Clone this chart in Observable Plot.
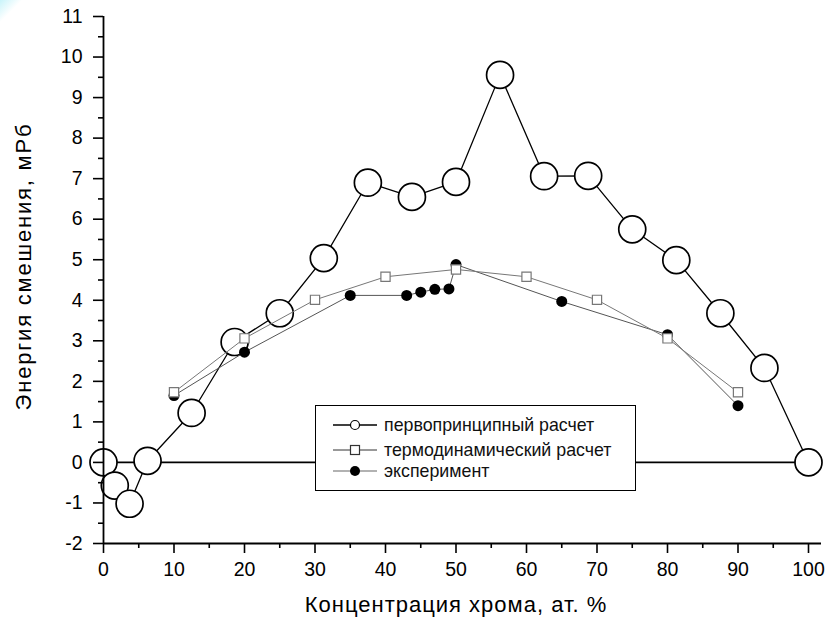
<!DOCTYPE html>
<html>
<head>
<meta charset="utf-8">
<script src="https://cdn.jsdelivr.net/npm/d3@7"></script>
<script src="https://cdn.jsdelivr.net/npm/@observablehq/plot@0.6"></script>
<style>
  html, body { margin: 0; padding: 0; background: #fff; }
  #wrap { position: relative; width: 829px; height: 626px; overflow: hidden;
    background: linear-gradient(135deg, #c8f4fa 0px, #ffffff 16px); }
  #legend { position: absolute; left: 315px; top: 405px; width: 319px; height: 84px;
    border: 1.5px solid #000; background: #fff; font-family: "Liberation Sans", Arial, sans-serif;
    font-size: 17.8px; color: #111; }
  .row { position: absolute; left: 17px; height: 20px; display: flex; align-items: center; }
  .row svg { margin-right: 7px; }
</style>
</head>
<body>
<div id="wrap"><div id="chart"></div>
<div id="legend"></div>
</div>
<script>
// First-principles calculation (open circles)
const fpX = [0, 1.6, 3.7, 6.25, 12.5, 18.6, 25, 31.25, 37.5, 43.75, 50, 56.25, 62.5, 68.75, 75, 81.25, 87.5, 93.75, 100];
const fpY = [0, -0.57, -1.02, 0.04, 1.22, 2.97, 3.68, 5.04, 6.9, 6.55, 6.92, 9.56, 7.06, 7.07, 5.75, 4.99, 3.68, 2.33, 0];
// Thermodynamic calculation (open squares)
const thX = [10, 20, 30, 40, 50, 60, 70, 80, 90];
const thY = [1.73, 3.06, 4.01, 4.58, 4.76, 4.58, 4.01, 3.06, 1.73];
// Experiment (filled circles)
const exX = [10, 20, 35, 43, 45, 47, 49, 50, 65, 80, 90];
const exY = [1.65, 2.72, 4.12, 4.12, 4.2, 4.27, 4.28, 4.88, 3.97, 3.15, 1.4];

const seriesNames = ["первопринципный расчет", "термодинамический расчет", "эксперимент"];
const xLabel = "Концентрация хрома, ат. %";
const yLabel = "Энергия смешения, мРб";
const xTicks = [0, 10, 20, 30, 40, 50, 60, 70, 80, 90, 100];
const yTicks = [-2, -1, 0, 1, 2, 3, 4, 5, 6, 7, 8, 9, 10, 11];

const fp = fpX.map((x, i) => ({x, y: fpY[i]}));
const th = thX.map((x, i) => ({x, y: thY[i]}));
const ex = exX.map((x, i) => ({x, y: exY[i]}));

const xMinor = xTicks.slice(0, -1).map(t => t + 5);
const yMinor = yTicks.slice(0, -1).map(t => t + 0.5);
const fmt = d => String(d);

const chart = Plot.plot({
  width: 829, height: 626,
  marginLeft: 103, marginRight: 21, marginTop: 16, marginBottom: 83,
  x: {domain: [0, 100]},
  y: {domain: [-2, 11]},
  style: {fontFamily: "'Liberation Sans', Arial, sans-serif", fontSize: "19px", background: "transparent", color: "#000"},
  marks: [
    Plot.ruleY([0], {stroke: "#000", strokeWidth: 1.7}),
    Plot.line(fp, {x: "x", y: "y", stroke: "#000", strokeWidth: 1.3}),
    Plot.dot(fp, {x: "x", y: "y", r: 13.5, fill: "#fff", stroke: "#000", strokeWidth: 1.7}),
    Plot.line(ex, {x: "x", y: "y", stroke: "#555", strokeWidth: 1}),
    Plot.dot(ex, {x: "x", y: "y", r: 5.5, fill: "#000", stroke: "none"}),
    Plot.line(th, {x: "x", y: "y", stroke: "#777", strokeWidth: 1}),
    Plot.dot(th, {x: "x", y: "y", symbol: "square", r: 5.2, fill: "#fff", stroke: "#777", strokeWidth: 1.2}),
    // axis lines
    Plot.ruleX([0], {stroke: "#000", strokeWidth: 1.8}),
    Plot.ruleY([-2], {stroke: "#000", strokeWidth: 1.8, insetRight: -13}),
    // axes
    Plot.axisY({ticks: yTicks, tickFormat: fmt, tickSize: 10, tickPadding: 11, stroke: "#000", strokeWidth: 1.6, label: null, fontSize: 19.5}),
    Plot.axisY({ticks: yMinor, tickSize: 5, text: null, label: null, stroke: "#000", strokeWidth: 1.6}),
    Plot.axisX({ticks: xTicks, tickFormat: fmt, tickSize: 10, tickPadding: 9, stroke: "#000", strokeWidth: 1.6, label: null, fontSize: 19.5}),
    Plot.axisX({ticks: xMinor, tickSize: 5, text: null, label: null, stroke: "#000", strokeWidth: 1.6}),
    // axis titles
    Plot.text([xLabel], {frameAnchor: "bottom", dy: 68, fontSize: 22, fill: "#000"}),
    Plot.text([yLabel], {frameAnchor: "left", textAnchor: "middle", dx: -80, dy: -13.5, rotate: -90, fontSize: 22, fill: "#000"})
  ]
});
// letter spacing for axis titles
chart.querySelectorAll("text").forEach(t => {
  if (t.textContent === xLabel) t.style.letterSpacing = "1px";
  if (t.textContent === yLabel) t.style.letterSpacing = "1.8px";
});
document.getElementById("chart").appendChild(chart);

// Legend
const legend = document.getElementById("legend");
const symbols = [
  `<line x1="0" y1="8" x2="44" y2="8" stroke="#000" stroke-width="1.3"/><circle cx="22" cy="8" r="4.5" fill="#fff" stroke="#000" stroke-width="1.2"/>`,
  `<line x1="0" y1="8" x2="44" y2="8" stroke="#333" stroke-width="1"/><rect x="17.5" y="3.5" width="9" height="9" fill="#fff" stroke="#333" stroke-width="1.2"/>`,
  `<line x1="0" y1="8" x2="44" y2="8" stroke="#999" stroke-width="1.5"/><circle cx="22" cy="8" r="5" fill="#000"/>`
];
const rowTops = [9, 34, 55];
seriesNames.forEach((name, i) => {
  const row = document.createElement("div");
  row.className = "row";
  row.style.top = rowTops[i] + "px";
  row.innerHTML = `<svg width="44" height="16">${symbols[i]}</svg><span>${name}</span>`;
  legend.appendChild(row);
});
</script>
</body>
</html>
